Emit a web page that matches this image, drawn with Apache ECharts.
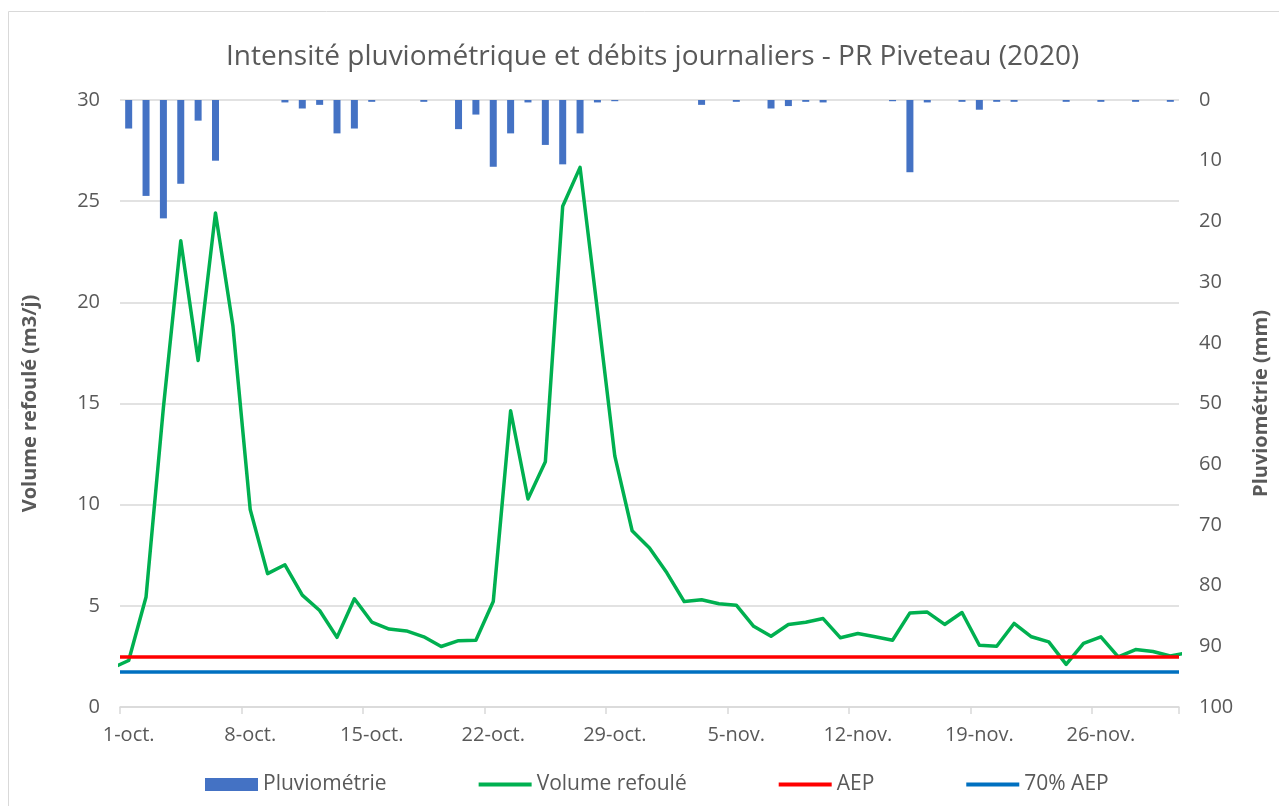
<!DOCTYPE html>
<html>
<head>
<meta charset="utf-8">
<title>PR Piveteau (2020)</title>
<script src="https://cdn.jsdelivr.net/npm/echarts@6/dist/echarts.min.js"></script>
<style>
    html, body { margin: 0; padding: 0; background: #fff; }
    #main { width: 1279px; height: 806px; }
</style>
</head>
<body>
<div id="main"></div>
<script>
// jours (axe des dates)
var jours = ['1-oct.','2-oct.','3-oct.','4-oct.','5-oct.','6-oct.','7-oct.','8-oct.','9-oct.','10-oct.',
    '11-oct.','12-oct.','13-oct.','14-oct.','15-oct.','16-oct.','17-oct.','18-oct.','19-oct.','20-oct.',
    '21-oct.','22-oct.','23-oct.','24-oct.','25-oct.','26-oct.','27-oct.','28-oct.','29-oct.','30-oct.',
    '31-oct.','1-nov.','2-nov.','3-nov.','4-nov.','5-nov.','6-nov.','7-nov.','8-nov.','9-nov.',
    '10-nov.','11-nov.','12-nov.','13-nov.','14-nov.','15-nov.','16-nov.','17-nov.','18-nov.','19-nov.',
    '20-nov.','21-nov.','22-nov.','23-nov.','24-nov.','25-nov.','26-nov.','27-nov.','28-nov.','29-nov.',
    '30-nov.'];

// pluviometrie (mm)
var pluie = [4.7, 15.8, 19.5, 13.8, 3.4, 10.0, 0, 0, 0, 0.4,
    1.4, 0.8, 5.5, 4.7, 0.3, 0, 0, 0.3, 0, 4.8,
    2.4, 11.0, 5.5, 0.4, 7.4, 10.6, 5.5, 0.4, 0.2, 0,
    0, 0, 0, 0.8, 0, 0.3, 0, 1.4, 1.0, 0.3,
    0.4, 0, 0, 0, 0.2, 11.9, 0.4, 0, 0.3, 1.6,
    0.3, 0.3, 0, 0, 0.3, 0, 0.3, 0, 0.3, 0,
    0.3];

// volume refoule (m3/j)
var volume = [2.30, 5.44, 14.8, 23.04, 17.13, 24.42, 18.86, 9.76, 6.59, 7.03,
    5.53, 4.77, 3.44, 5.35, 4.20, 3.85, 3.76, 3.47, 2.99, 3.28,
    3.30, 5.21, 14.64, 10.28, 12.12, 24.75, 26.67, 19.6, 12.41, 8.71,
    7.86, 6.63, 5.21, 5.30, 5.10, 5.03, 3.99, 3.50, 4.08, 4.19,
    4.37, 3.42, 3.63, 3.47, 3.30, 4.65, 4.69, 4.08, 4.67, 3.05,
    3.00, 4.13, 3.47, 3.22, 2.11, 3.14, 3.47, 2.48, 2.84, 2.74,
    2.52];
var volumeAvant = 1.9;   // 30-sept. (coupe par le cadre)
var volumeApres = 2.69;  // 1-dec. (coupe par le cadre)

var aep = 2.47;
var aep70 = 1.73;

var gris = '#595959';
var police = '"Open Sans", "Noto Sans", sans-serif';
var sansSymbole = { color: 'rgba(0,0,0,0)', borderColor: 'rgba(0,0,0,0)', borderWidth: 0 };

function chartPluie() {
    var myChart = echarts.init(document.getElementById('main'));

    // courbe sur un axe x numerique : un point au milieu de chaque jour
    var ligneVolume = [[-0.5, volumeAvant]];
    for (var i = 0; i < volume.length; i++) {
        ligneVolume.push([i + 0.5, volume[i]]);
    }
    ligneVolume.push([volume.length + 0.5, volumeApres]);

    var option = {
        animation: false,
        textStyle: { fontFamily: police },
        title: {
            text: 'Intensité pluviométrique et débits journaliers - PR Piveteau (2020)',
            left: 221,
            top: 38,
            textStyle: { fontFamily: police, fontSize: 28, fontWeight: 'normal', color: gris }
        },
        graphic: [{
            type: 'rect',
            silent: true,
            shape: { x: 8.5, y: 11.5, width: 1300, height: 900 },
            style: { fill: 'none', stroke: '#d9d9d9', lineWidth: 1 }
        }],
        legend: {
            data: [
                { name: 'Pluviométrie', icon: 'rect' },
                { name: 'Volume refoulé', itemStyle: sansSymbole, lineStyle: { width: 4 } },
                { name: 'AEP', itemStyle: sansSymbole, lineStyle: { width: 4 } },
                { name: '70% AEP', itemStyle: sansSymbole, lineStyle: { width: 4 } }
            ],
            top: 769,
            left: 200,
            itemWidth: 53,
            itemHeight: 13,
            itemGap: 90,
            textStyle: { fontFamily: police, fontSize: 21, color: gris }
        },
        grid: { left: 120, right: 97, top: 100, bottom: 99 },
        xAxis: [{
            type: 'category',
            data: jours,
            boundaryGap: true,
            axisLine: { lineStyle: { color: '#d9d9d9', width: 1.5 } },
            axisTick: { show: true, interval: 6, length: 7, lineStyle: { color: '#d9d9d9', width: 1.5 } },
            axisLabel: { interval: 6, fontSize: 20, margin: 18, color: gris, fontFamily: police },
            splitLine: { show: false }
        }, {
            type: 'value',
            min: 0,
            max: jours.length,
            show: false
        }],
        yAxis: [{
            type: 'value',
            min: 0,
            max: 30,
            interval: 5,
            name: 'Volume refoulé (m3/j)',
            nameLocation: 'middle',
            nameRotate: 90,
            nameGap: 80,
            nameTextStyle: { fontFamily: police, fontSize: 20, fontWeight: 'bold', color: gris },
            axisLine: { show: false },
            axisTick: { show: false },
            axisLabel: { fontSize: 20, margin: 20, color: gris, fontFamily: police },
            splitLine: { lineStyle: { color: '#d9d9d9', width: 1.5 } }
        }, {
            type: 'value',
            min: 0,
            max: 100,
            interval: 10,
            inverse: true,
            name: 'Pluviométrie (mm)',
            nameLocation: 'middle',
            nameRotate: 90,
            nameGap: 72,
            nameTextStyle: { fontFamily: police, fontSize: 20, fontWeight: 'bold', color: gris },
            axisLine: { show: false },
            axisTick: { show: false },
            axisLabel: { fontSize: 20, margin: 20, color: gris, fontFamily: police },
            splitLine: { show: false }
        }],
        series: [{
            name: 'Pluviométrie',
            type: 'bar',
            xAxisIndex: 0,
            yAxisIndex: 1,
            data: pluie,
            barWidth: 7,
            itemStyle: { color: '#4472C4' }
        }, {
            name: 'Volume refoulé',
            type: 'line',
            xAxisIndex: 1,
            yAxisIndex: 0,
            data: ligneVolume,
            symbol: 'none',
            color: '#00B050',
            lineStyle: { color: '#00B050', width: 3.5, join: 'round' }
        }, {
            name: 'AEP',
            type: 'line',
            xAxisIndex: 1,
            yAxisIndex: 0,
            data: [[0, aep], [jours.length, aep]],
            symbol: 'none',
            color: '#FF0000',
            lineStyle: { color: '#FF0000', width: 3.5 }
        }, {
            name: '70% AEP',
            type: 'line',
            xAxisIndex: 1,
            yAxisIndex: 0,
            data: [[0, aep70], [jours.length, aep70]],
            symbol: 'none',
            color: '#0070C0',
            lineStyle: { color: '#0070C0', width: 3.5 }
        }]
    };
    myChart.setOption(option);
}

chartPluie();
</script>
</body>
</html>
